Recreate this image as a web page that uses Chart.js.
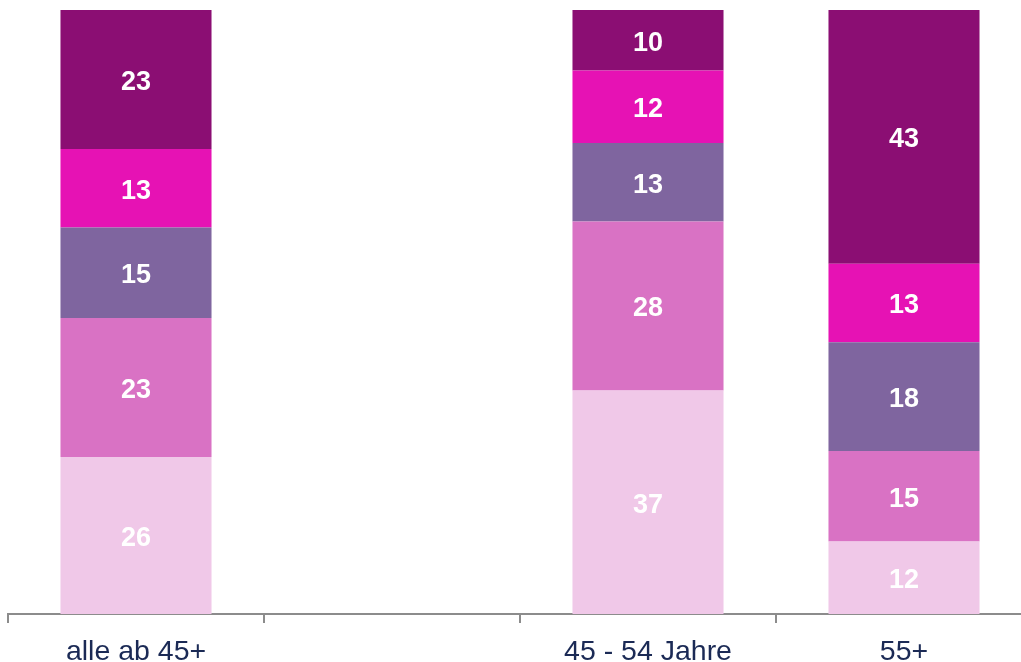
<!DOCTYPE html>
<html>
<head>
<meta charset="utf-8">
<script src="https://cdn.jsdelivr.net/npm/chart.js@4.4.1/dist/chart.umd.min.js"></script>
<style>
  html, body { margin: 0; padding: 0; background: #ffffff; overflow: hidden; }
  #wrap { position: relative; width: 1021px; height: 662px; overflow: hidden; }
</style>
</head>
<body>
<div id="wrap"><canvas id="c" width="1040" height="662"></canvas></div>
<script>
// Categories (second slot is an empty gap in the original)
const categories = ["alle ab 45+", "", "45 - 54 Jahre", "55+"];

// Stacked series, bottom to top
const seriesNames = ["S1", "S2", "S3", "S4", "S5"];
const s1 = [26, null, 37, 12];
const s2 = [23, null, 28, 15];
const s3 = [15, null, 13, 18];
const s4 = [13, null, 12, 13];
const s5 = [23, null, 10, 43];
const seriesColors = ["#F0C8E8", "#D972C4", "#7F659F", "#E612B4", "#8B0E73"];
const yMax = 100;

const seriesData = [s1, s2, s3, s4, s5];

const FONT = "'Liberation Sans', Arial, Helvetica, sans-serif";

const labelPlugin = {
  id: 'segLabels',
  afterDatasetsDraw(chart) {
    const ctx = chart.ctx;
    const area = chart.chartArea;
    ctx.save();
    ctx.fillStyle = '#ffffff';
    ctx.font = "bold 27px " + FONT;
    ctx.textAlign = 'center';
    ctx.textBaseline = 'middle';
    chart.data.datasets.forEach((ds, i) => {
      const meta = chart.getDatasetMeta(i);
      meta.data.forEach((el, j) => {
        const v = ds.data[j];
        if (v === null || v === undefined) return;
        const top = Math.max(Math.min(el.y, el.base), area.top);
        const bot = Math.min(Math.max(el.y, el.base), area.bottom);
        ctx.fillText(String(v), el.x, (top + bot) / 2 + 3);
      });
    });
    ctx.restore();
  }
};

new Chart(document.getElementById('c'), {
  type: 'bar',
  data: {
    labels: categories,
    datasets: seriesData.map((d, i) => ({
      label: seriesNames[i],
      data: d,
      backgroundColor: seriesColors[i],
      borderWidth: 0,
      barPercentage: 0.59,
      categoryPercentage: 1.0,
      clip: 0
    }))
  },
  options: {
    responsive: false,
    animation: false,
    devicePixelRatio: 1,
    layout: { padding: { top: 10, left: 8, right: 8, bottom: 0 } },
    plugins: { legend: { display: false }, tooltip: { enabled: false } },
    scales: {
      x: {
        stacked: true,
        offset: true,
        afterFit: (scale) => { scale.height = 48; },
        grid: {
          offset: true,
          drawOnChartArea: false,
          drawTicks: true,
          tickLength: 9,
          color: '#8C8C8C',
          lineWidth: 2
        },
        border: { display: true, color: '#8C8C8C', width: 2 },
        ticks: {
          color: '#1B2A55',
          font: { family: FONT, size: 28.5, lineHeight: 1.0 },
          padding: 15,
          maxRotation: 0,
          autoSkip: false
        }
      },
      y: {
        stacked: true,
        display: false,
        min: 0,
        max: yMax
      }
    }
  },
  plugins: [labelPlugin]
});
</script>
</body>
</html>
